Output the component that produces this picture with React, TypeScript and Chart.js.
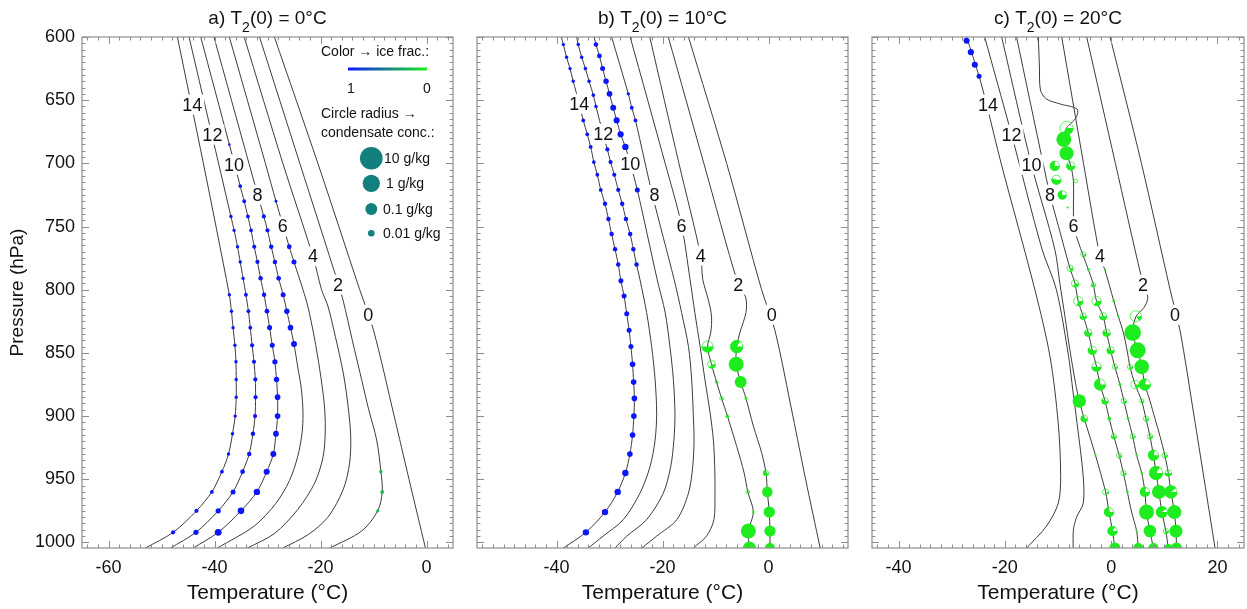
import React, { useEffect, useRef } from "react";
import { Chart, registerables } from "chart.js";

Chart.register(...registerables);

const FONT = "'Liberation Sans', Arial, Helvetica, sans-serif";

// ---------------- axes ----------------
const Y_TICKS = [600, 650, 700, 750, 800, 850, 900, 950, 1000];
const Y_MIN = 600;
const Y_MAX = 1004.4;
const X_TICKS_A = [-60, -40, -20, 0];
const X_TICKS_B = [-40, -20, 0];
const X_TICKS_C = [-40, -20, 0, 20];
const CURVE_LABELS = ["0", "2", "4", "6", "8", "10", "12", "14"];

// ---------------- panel a : T2(0) = 0 C ----------------
const A0_P = [600, 700, 800, 832, 900, 950, 1004.4];
const A0_T = [-28.7, -20.5, -12.6, -10.0, -6.1, -3.3, -0.2];
const A2_P = [600, 700, 796, 809, 840, 871, 895, 919, 944, 960, 975, 991, 1004.4];
const A2_T = [-31.5, -23.9, -16.6, -15.7, -14.0, -12.25, -10.9, -9.4, -8.6, -8.35, -9.2, -12.25, -18.2];
const A4_P = [600, 700, 774, 800, 813, 837, 866, 892, 916, 937, 958, 980, 994, 1004.4];
const A4_T = [-34.4, -27.1, -21.4, -19.8, -18.6, -17.2, -15.7, -14.8, -14.3, -14.5, -15.7, -18.6, -22.4, -27.1];
const A6_P = [600, 700, 730, 766, 778, 800, 813, 837, 863, 890, 911, 932, 953, 974, 993, 1004.4];
const A6_T = [-37.2, -30.4, -28.4, -25.9, -25.0, -23.3, -22.4, -21.2, -20.15, -19.3, -19.1, -19.5, -21.1, -24.3, -28.7, -33.75];
const A8_P = [600, 700, 742, 753, 766, 778, 791, 804, 817, 830, 843, 861, 879, 898, 914, 932, 951, 969, 987, 1004.4];
const A8_T = [-40.1, -33.5, -30.7, -30.0, -29.3, -28.6, -27.9, -27.05, -26.35, -25.66, -25.0, -24.3, -23.6, -23.3, -23.5, -24.3, -25.85, -28.4, -32.5, -39.45];
const A10_P = [600, 685, 718, 730, 742, 753, 766, 778, 791, 804, 817, 830, 844, 857, 871, 885, 900, 914, 930, 944, 960, 975, 992, 1004.4];
const A10_T = [-42.6, -37.2, -35.15, -34.4, -33.7, -33.1, -32.5, -31.9, -31.3, -30.65, -30.1, -29.6, -29.1, -28.6, -28.3, -28.1, -28.1, -28.4, -28.9, -30.15, -32.0, -35.0, -39.3, -44.0];
const A12_P = [600, 742, 753, 766, 778, 791, 804, 817, 830, 844, 857, 871, 885, 900, 914, 930, 944, 960, 975, 992, 1004.4];
const A12_T = [-44.8, -36.9, -36.3, -35.65, -35.15, -34.6, -34.07, -33.6, -33.25, -32.9, -32.55, -32.3, -32.25, -32.35, -32.75, -33.45, -34.7, -36.5, -39.3, -43.5, -48.3];
const A14_P = [600, 700, 804, 817, 830, 844, 857, 871, 885, 900, 914, 930, 944, 960, 975, 992, 1004.4];
const A14_T = [-47.0, -42.1, -37.2, -36.8, -36.5, -36.15, -35.95, -35.9, -35.9, -36.1, -36.6, -37.35, -38.6, -40.5, -43.4, -47.8, -53.0];
const A_LABEL_T = [-11.0, -16.7, -21.4, -27.1, -31.9, -36.3, -40.4, -44.2];
const A_LABEL_P = [819.8, 796, 773.6, 749.9, 724.8, 701, 677.2, 653.5];
// markers: [T, P, condensate g/kg, ice fraction, filled fraction]
const A_MARKERS = [
  [-37.2, 804, 0.0025, 1, 1], [-36.8, 817, 0.0025, 1, 1], [-36.5, 830, 0.0025, 1, 1], [-36.15, 844, 0.0025, 1, 1],
  [-35.95, 857, 0.0025, 1, 1], [-35.9, 871, 0.0025, 1, 1], [-35.9, 885, 0.0025, 1, 1], [-36.1, 900, 0.0025, 1, 1],
  [-36.6, 914, 0.0025, 1, 1], [-37.35, 930, 0.0025, 1, 1], [-38.6, 944, 0.003, 1, 1], [-40.5, 960, 0.003, 1, 1],
  [-43.4, 975, 0.0035, 1, 1], [-47.8, 992, 0.0035, 1, 1],
  [-36.9, 742, 0.0025, 1, 1], [-36.3, 753, 0.0025, 1, 1], [-35.65, 766, 0.0025, 1, 1], [-35.15, 778, 0.0025, 1, 1],
  [-34.6, 791, 0.0025, 1, 1], [-34.07, 804, 0.003, 1, 1], [-33.6, 817, 0.003, 1, 1], [-33.25, 830, 0.003, 1, 1],
  [-32.9, 844, 0.0035, 1, 1], [-32.55, 857, 0.0035, 1, 1], [-32.3, 871, 0.0035, 1, 1], [-32.25, 885, 0.0035, 1, 1],
  [-32.35, 900, 0.0035, 1, 1], [-32.75, 914, 0.004, 1, 1], [-33.45, 930, 0.004, 1, 1], [-34.7, 944, 0.0045, 1, 1],
  [-36.5, 960, 0.005, 1, 1], [-39.3, 975, 0.0055, 1, 1], [-43.5, 992, 0.0055, 1, 1],
  [-37.2, 685, 0.0017, 1, 1], [-35.15, 718, 0.003, 1, 1], [-34.4, 730, 0.003, 1, 1], [-33.7, 742, 0.003, 1, 1],
  [-33.1, 753, 0.003, 1, 1], [-32.5, 766, 0.0035, 1, 1], [-31.9, 778, 0.0035, 1, 1], [-31.3, 791, 0.004, 1, 1],
  [-30.65, 804, 0.004, 1, 1], [-30.1, 817, 0.0045, 1, 1], [-29.6, 830, 0.005, 1, 1], [-29.1, 844, 0.005, 1, 1],
  [-28.6, 857, 0.0055, 1, 1], [-28.3, 871, 0.006, 1, 1], [-28.1, 885, 0.0065, 1, 1], [-28.1, 900, 0.0065, 1, 1],
  [-28.4, 914, 0.007, 1, 1], [-28.9, 930, 0.0075, 1, 1], [-30.15, 944, 0.008, 1, 1], [-32.0, 960, 0.009, 1, 1],
  [-35.0, 975, 0.01, 1, 1], [-39.3, 992, 0.011, 1, 1],
  [-30.7, 742, 0.0035, 1, 1], [-30.0, 753, 0.0035, 1, 1], [-29.3, 766, 0.004, 1, 1], [-28.6, 778, 0.004, 1, 1],
  [-27.9, 791, 0.0045, 1, 1], [-27.05, 804, 0.005, 1, 1], [-26.35, 817, 0.006, 1, 1], [-25.66, 830, 0.0065, 1, 1],
  [-25.0, 843, 0.0075, 1, 1],
  [-28.4, 730, 0.002, 1, 1], [-25.9, 766, 0.0045, 1, 1], [-25.0, 778, 0.005, 1, 1],
  [-8.6, 944, 0.0025, 0.25, 1], [-8.35, 960, 0.003, 0.25, 1], [-9.2, 975, 0.0025, 0.25, 1],
];

// ---------------- panel b : T2(0) = 10 C ----------------
const B0_P = [600, 700, 800, 832, 900, 950, 1004.4];
const B0_T = [-15.1, -7.9, -1.3, 1.2, 4.6, 7.0, 9.75];
const B2_P = [600, 700, 796, 806, 818, 834, 845, 859, 873, 886, 908, 929, 945, 960, 976, 991, 1004.4];
const B2_T = [-18.9, -12.2, -5.7, -4.3, -4.25, -5.4, -6.0, -6.1, -5.25, -4.25, -2.85, -1.3, -0.47, -0.22, 0.15, 0.28, 0.28];
const B4_P = [600, 700, 773, 792, 808, 821, 834, 845, 859, 873, 886, 900, 924, 945, 960, 976, 991, 1004.4];
const B4_T = [-22.4, -16.9, -12.8, -12.4, -11.35, -10.75, -10.9, -11.5, -10.75, -9.8, -8.85, -7.75, -6.0, -4.6, -3.9, -2.85, -3.8, -3.6];
const B6_P = [600, 700, 749, 792, 818, 845, 871, 898, 919, 940, 961, 982, 995, 1004.4];
const B6_T = [-26.1, -19.5, -16.4, -14.8, -13.9, -12.9, -12.0, -11.0, -10.4, -10.15, -10.1, -10.3, -11.7, -14.2];
const B8_P = [600, 645, 656, 666, 725, 792, 818, 845, 871, 898, 919, 940, 961, 982, 995, 1004.4];
const B8_T = [-29.6, -26.45, -25.8, -25.1, -21.9, -17.8, -16.4, -15.1, -14.5, -14.2, -14.05, -14.3, -15.1, -17.3, -21.1, -23.9];
const B10_P = [600, 606, 615, 625, 635, 645, 656, 666, 677, 687, 700, 721, 792, 818, 845, 871, 898, 919, 940, 961, 982, 995, 1004.4];
const B10_T = [-32.9, -32.55, -31.9, -31.3, -30.65, -30.0, -29.3, -28.65, -27.9, -27.0, -26.1, -24.75, -21.0, -19.5, -18.6, -17.95, -17.65, -17.85, -18.45, -19.85, -23.0, -26.75, -28.95];
const B12_P = [600, 606, 616, 625, 635, 646, 655, 677, 689, 699, 709, 721, 732, 744, 756, 768, 780, 792, 818, 845, 871, 898, 919, 940, 961, 982, 995, 1004.4];
const B12_T = [-36.2, -35.9, -35.25, -34.55, -33.85, -33.05, -32.55, -31.2, -30.4, -29.8, -29.1, -28.35, -27.6, -26.9, -26.1, -25.5, -24.9, -24.25, -23.0, -22.05, -21.4, -21.1, -21.4, -22.35, -24.25, -27.4, -31.2, -34.0];
const B14_P = [600, 606, 616, 625, 635, 653, 666, 677, 687, 699, 709, 721, 732, 744, 756, 768, 780, 793, 805, 819, 832, 845, 859, 873, 886, 900, 915, 930, 945, 960, 976, 992, 1004.4];
const B14_T = [-39.1, -38.7, -38.1, -37.45, -36.85, -35.7, -34.95, -34.2, -33.55, -32.95, -32.3, -31.65, -30.85, -30.2, -29.6, -28.95, -28.35, -27.85, -27.25, -26.75, -26.3, -25.95, -25.65, -25.45, -25.3, -25.4, -25.65, -26.15, -27.0, -28.45, -30.85, -34.45, -38.7];
const B_LABEL_T = [0.6, -5.7, -12.8, -16.4, -21.5, -26.1, -31.2, -35.7];
const B_LABEL_P = [819.8, 796, 773, 749.3, 725, 700.4, 676.7, 652.9];
const B_MARKERS = [
  [-38.7, 606, 0.0025, 1, 1], [-38.1, 616, 0.0025, 1, 1], [-37.45, 625, 0.0025, 1, 1], [-36.85, 635, 0.0025, 1, 1],
  [-34.95, 666, 0.003, 1, 1], [-34.2, 677, 0.003, 1, 1], [-33.55, 687, 0.003, 1, 1], [-32.95, 699, 0.003, 1, 1],
  [-32.3, 709, 0.003, 1, 1], [-31.65, 721, 0.003, 1, 1], [-30.85, 732, 0.004, 1, 1], [-30.2, 744, 0.004, 1, 1],
  [-29.6, 756, 0.004, 1, 1], [-28.95, 768, 0.004, 1, 1], [-28.35, 780, 0.004, 1, 1], [-27.85, 793, 0.005, 1, 1],
  [-27.25, 805, 0.005, 1, 1], [-26.75, 819, 0.005, 1, 1], [-26.3, 832, 0.005, 1, 1], [-25.95, 845, 0.005, 1, 1],
  [-25.65, 859, 0.0065, 1, 1], [-25.45, 873, 0.0065, 1, 1], [-25.3, 886, 0.0065, 1, 1], [-25.4, 900, 0.0065, 1, 1],
  [-25.65, 915, 0.0065, 1, 1], [-26.15, 930, 0.0065, 1, 1], [-27.0, 945, 0.009, 1, 1], [-28.45, 960, 0.009, 1, 1],
  [-30.85, 976, 0.009, 1, 1], [-34.45, 992, 0.009, 1, 1],
  [-35.9, 606, 0.0027, 1, 1], [-35.25, 616, 0.0027, 1, 1], [-34.55, 625, 0.0027, 1, 1], [-33.85, 635, 0.0027, 1, 1],
  [-33.05, 646, 0.0027, 1, 1], [-32.55, 655, 0.0027, 1, 1], [-30.4, 689, 0.0035, 1, 1], [-29.8, 699, 0.0035, 1, 1],
  [-29.1, 709, 0.0035, 1, 1], [-28.35, 721, 0.0035, 1, 1], [-27.6, 732, 0.004, 1, 1], [-26.9, 744, 0.004, 1, 1],
  [-26.1, 756, 0.004, 1, 1], [-25.5, 768, 0.004, 1, 1], [-24.9, 780, 0.004, 1, 1],
  [-32.55, 606, 0.004, 1, 1], [-31.9, 615, 0.0045, 1, 1], [-31.3, 625, 0.005, 1, 1], [-30.65, 635, 0.006, 1, 1],
  [-30.0, 645, 0.007, 1, 1], [-29.3, 656, 0.0075, 1, 1], [-28.65, 666, 0.008, 1, 1], [-27.9, 677, 0.0085, 1, 1],
  [-27.0, 687, 0.009, 1, 1], [-24.75, 721, 0.005, 1, 1],
  [-26.45, 645, 0.0025, 1, 1], [-25.8, 656, 0.003, 1, 1], [-25.1, 666, 0.003, 1, 1],
  [-11.5, 845, 0.1, 0, 0.5], [-10.75, 859, 0.024, 0, 0.35], [-9.8, 873, 0.003, 0, 0.2], [-8.85, 886, 0.004, 0, 0.2],
  [-7.75, 900, 0.003, 0, 0.5], [-3.9, 960, 0.004, 0, 0.1], [-2.85, 976, 0.0017, 0, 1], [-3.8, 991, 0.37, 0, 1],
  [-3.6, 1004.4, 0.16, 0, 1],
  [-6.0, 845, 0.16, 0, 0.85], [-6.1, 859, 0.37, 0, 1], [-5.25, 873, 0.1, 0, 1], [-4.25, 886, 0.0025, 0, 0.2],
  [-0.47, 945, 0.0077, 0, 0.7], [-0.22, 960, 0.055, 0, 1], [0.15, 976, 0.075, 0, 1], [0.28, 991, 0.075, 0, 1],
  [0.28, 1004.4, 0.043, 0, 1],
];

// ---------------- panel c : T2(0) = 20 C ----------------
const C0_P = [600, 700, 800, 832, 900, 950, 1004.4];
const C0_T = [-0.2, 5.7, 11.1, 12.95, 15.6, 17.5, 19.55];
const C2_P = [600, 700, 790, 806, 814, 821, 834, 848, 861, 875, 888, 902, 916, 931, 945, 960, 976, 991, 1004.4];
const C2_T = [-4.6, 0.8, 5.7, 6.9, 6.2, 4.7, 4.05, 5.0, 5.75, 6.35, 7.3, 8.25, 9.2, 10.1, 10.75, 11.25, 11.9, 12.2, 12.3];
const C4_P = [600, 700, 774, 784, 809, 821, 834, 848, 861, 875, 888, 902, 916, 931, 945, 960, 976, 991, 1004.4];
const C4_T = [-9.3, -5.2, -2.1, -1.2, 0.5, 1.35, 2.3, 3.0, 3.55, 4.5, 5.75, 6.55, 7.3, 7.95, 8.45, 9.0, 9.55, 10.3, 10.75];
const C6_P = [600, 623, 642, 649, 653, 657, 663, 668, 672, 681, 692, 702, 714, 739, 750, 762, 784, 795, 809, 821, 834, 848, 861, 875, 888, 902, 916, 931, 945, 960, 976, 991, 1004.4];
const C6_T = [-13.7, -13.5, -13.3, -12.2, -9.6, -6.4, -6.5, -7.45, -8.4, -8.9, -8.4, -7.6, -7.1, -7.1, -7.0, -6.2, -4.3, -3.4, -2.75, -1.5, -0.85, -0.1, 0.7, 1.65, 2.4, 3.2, 4.05, 4.8, 5.75, 6.35, 6.65, 7.3, 7.95];
const C8_P = [600, 700, 725, 750, 783, 795, 809, 821, 834, 848, 861, 875, 888, 902, 916, 931, 945, 960, 976, 991, 1004.4];
const C8_T = [-17.8, -12.8, -11.5, -9.9, -7.75, -6.8, -6.2, -5.25, -4.3, -3.55, -2.75, -2.1, -1.15, -0.35, 0.5, 1.5, 2.3, 3.05, 3.85, 4.8, 5.1];
const C10_P = [600, 701, 768, 795, 821, 848, 874, 888, 902, 931, 960, 976, 991, 1004.4];
const C10_T = [-20.6, -15.0, -10.6, -9.65, -8.7, -7.75, -6.7, -6.0, -5.05, -2.95, -1.05, -0.4, 0.25, 0.7];
const C12_P = [600, 677, 768, 800, 853, 880, 906, 948, 969, 980, 990, 1004.4];
const C12_T = [-23.8, -18.75, -13.0, -10.3, -8.0, -7.2, -6.4, -5.25, -5.25, -6.5, -7.1, -7.15];
const C14_P = [600, 631, 654, 700, 800, 853, 906, 948, 969, 987, 1004.4];
const C14_T = [-27.2, -24.85, -23.4, -20.7, -14.35, -11.5, -9.95, -9.5, -9.95, -12.15, -15.9];
const C_LABEL_T = [12.0, 6.0, -2.1, -7.1, -11.5, -15.0, -18.75, -23.15];
const C_LABEL_P = [819.8, 796, 773.6, 749.8, 724.8, 701, 677.2, 653.5];
const C_MARKERS = [
  [-27.2, 603, 0.008, 1, 1], [-26.4, 612, 0.008, 1, 1], [-25.65, 622, 0.008, 1, 1], [-24.85, 631, 0.005, 1, 1],
  [-8.4, 672, 0.24, 0, 0.35], [-8.9, 681, 0.37, 0, 1], [-8.4, 692, 0.24, 0, 1], [-10.6, 702, 0.043, 0, 0.75],
  [-7.6, 702, 0.028, 0, 0.6], [-10.3, 713, 0.043, 0, 0.55], [-6.65, 714, 0.004, 0, 0], [-9.2, 725, 0.028, 0, 0.75],
  [-8.2, 735, 0.0014, 0, 1], [-5.25, 772, 0.0077, 0, 0.15],
  [-7.75, 783, 0.012, 0, 0.25], [-4.3, 784, 0.002, 0, 1], [-1.15, 784, 0.0015, 0, 1],
  [-6.8, 795, 0.018, 0, 0.35], [-3.35, 796, 0.005, 0, 0.5],
  [-6.2, 809, 0.043, 0, 0.3], [-2.75, 809, 0.043, 0, 0.35], [0.5, 809, 0.002, 0, 1],
  [-5.25, 821, 0.012, 0, 0.5], [-1.5, 821, 0.018, 0, 0.5], [1.35, 821, 0.0015, 0, 1], [4.65, 821, 0.1, 0, 0.15],
  [-4.3, 834, 0.018, 0, 0.6], [-0.85, 834, 0.018, 0, 0.6], [4.05, 834, 0.75, 0, 1],
  [-3.55, 848, 0.028, 0, 0.6], [-0.1, 848, 0.018, 0, 0.6], [5.0, 848, 0.57, 0, 1],
  [-2.75, 861, 0.043, 0, 0.5], [0.7, 861, 0.0077, 0, 0.2], [3.55, 861, 0.0077, 0, 0.3], [5.75, 861, 0.32, 0, 1],
  [-2.1, 875, 0.1, 0, 0.75], [1.65, 875, 0.002, 0, 1], [4.5, 875, 0.028, 0, 0.2], [6.35, 875, 0.1, 0, 0.8],
  [-6.0, 888, 0.19, 0, 1], [-1.15, 888, 0.012, 0, 0.6], [2.4, 888, 0.0077, 0, 0.3], [5.75, 888, 0.005, 0, 0.3],
  [-5.05, 902, 0.014, 0, 0.7], [-0.35, 902, 0.003, 0, 1], [3.2, 902, 0.002, 0, 1], [6.55, 902, 0.0077, 0, 0.3],
  [0.5, 916, 0.0077, 0, 0.5], [4.05, 916, 0.0077, 0, 0.2], [7.3, 916, 0.0077, 0, 0.3],
  [-2.95, 931, 0.0015, 0, 1], [1.5, 931, 0.0077, 0, 0.3], [4.8, 931, 0.0015, 0, 1], [7.95, 931, 0.066, 0, 0.8],
  [10.1, 931, 0.0077, 0, 0.3],
  [2.3, 945, 0.0077, 0, 0.3], [5.75, 945, 0.0017, 0, 1], [8.45, 945, 0.24, 0, 0.85], [10.75, 945, 0.012, 0, 0.5],
  [-1.05, 960, 0.012, 0, 0.1], [3.05, 960, 0.0017, 0, 1], [6.35, 960, 0.043, 0, 0.8], [9.0, 960, 0.24, 0, 1],
  [11.25, 960, 0.16, 0, 0.9],
  [-0.4, 976, 0.043, 0, 0.75], [6.65, 976, 0.37, 0, 1], [9.55, 976, 0.1, 0, 0.9], [11.9, 976, 0.24, 0, 1],
  [0.25, 991, 0.043, 0, 0.85], [4.8, 991, 0.0015, 0, 1], [7.3, 991, 0.13, 0, 1], [10.3, 991, 0.0077, 0, 0.3],
  [12.2, 991, 0.16, 0, 1],
  [0.7, 1004.4, 0.066, 0, 1], [5.1, 1004.4, 0.043, 0, 1], [7.95, 1004.4, 0.043, 0, 1], [10.75, 1004.4, 0.018, 0, 1],
  [12.3, 1004.4, 0.066, 0, 1],
];

// legend
const LEGEND_Q = [10, 1, 0.1, 0.01];
const LEGEND_TEXT = ["10 g/kg", "1 g/kg", "0.1 g/kg", "0.01 g/kg"];

// ---------------- helpers ----------------
const BLUE = [12, 22, 250];
const GREEN = [30, 236, 30];
function iceColor(ice: number, alpha = 1) {
  const c = BLUE.map((b, i) => Math.round(b * ice + GREEN[i] * (1 - ice)));
  return `rgba(${c[0]},${c[1]},${c[2]},${alpha})`;
}
function radiusOf(q: number) {
  return Math.max(1, 2.67 * (Math.log10(q) + 3.24));
}
function drawMarker(ctx: CanvasRenderingContext2D, x: number, y: number, r: number, ice: number, fill: number) {
  if (fill >= 0.98) {
    ctx.beginPath();
    ctx.arc(x, y, r, 0, Math.PI * 2);
    ctx.fillStyle = iceColor(ice);
    ctx.fill();
    return;
  }
  ctx.beginPath();
  ctx.arc(x, y, Math.max(0.8, r - 0.4), 0, Math.PI * 2);
  ctx.strokeStyle = iceColor(ice, 0.8);
  ctx.lineWidth = 0.9;
  ctx.stroke();
  if (fill > 0) {
    ctx.beginPath();
    ctx.moveTo(x, y);
    ctx.arc(x, y, r, 0, Math.PI * 2 * fill);
    ctx.closePath();
    ctx.fillStyle = iceColor(ice);
    ctx.fill();
  }
}

const PANELS = [
  {
    letter: "a", t0: "0", xMin: -65, xMax: 5, xTicks: X_TICKS_A,
    curves: [[A0_P, A0_T], [A2_P, A2_T], [A4_P, A4_T], [A6_P, A6_T], [A8_P, A8_T], [A10_P, A10_T], [A12_P, A12_T], [A14_P, A14_T]],
    labelT: A_LABEL_T, labelP: A_LABEL_P, markers: A_MARKERS,
    showY: true, legend: true, left: 0, width: 460, padLeft: 0, padRight: 7,
  },
  {
    letter: "b", t0: "10", xMin: -55, xMax: 15, xTicks: X_TICKS_B,
    curves: [[B0_P, B0_T], [B2_P, B2_T], [B4_P, B4_T], [B6_P, B6_T], [B8_P, B8_T], [B10_P, B10_T], [B12_P, B12_T], [B14_P, B14_T]],
    labelT: B_LABEL_T, labelP: B_LABEL_P, markers: B_MARKERS,
    showY: false, legend: false, left: 460, width: 395, padLeft: 17, padRight: 7,
  },
  {
    letter: "c", t0: "20", xMin: -45, xMax: 25, xTicks: X_TICKS_C,
    curves: [[C0_P, C0_T], [C2_P, C2_T], [C4_P, C4_T], [C6_P, C6_T], [C8_P, C8_T], [C10_P, C10_T], [C12_P, C12_T], [C14_P, C14_T]],
    labelT: C_LABEL_T, labelP: C_LABEL_P, markers: C_MARKERS,
    showY: false, legend: false, left: 855, width: 392, padLeft: 17, padRight: 3,
  },
];

function decoPlugin(cfg: any) {
  return {
    id: "deco" + cfg.letter,
    afterDatasetsDraw(chart: any) {
      const { ctx, chartArea: a, scales } = chart;
      const xs = scales.x, ys = scales.y;
      ctx.save();
      // curve labels (white gap + number)
      ctx.font = `18px ${FONT}`;
      ctx.textAlign = "center";
      ctx.textBaseline = "middle";
      CURVE_LABELS.forEach((txt, i) => {
        const px = xs.getPixelForValue(cfg.labelT[i]);
        const py = ys.getPixelForValue(cfg.labelP[i]);
        const w = ctx.measureText(txt).width;
        ctx.fillStyle = "#ffffff";
        ctx.fillRect(px - w / 2 - 2, py - 10, w + 4, 20);
        ctx.fillStyle = "#111111";
        ctx.fillText(txt, px, py + 1);
      });
      // condensate markers
      ctx.beginPath();
      ctx.rect(a.left, a.top, a.right - a.left, a.bottom - a.top);
      ctx.clip();
      const meta = chart.getDatasetMeta(chart.data.datasets.length - 1);
      meta.data.forEach((el: any, i: number) => {
        const m = cfg.markers[i];
        drawMarker(ctx, el.x, el.y, radiusOf(m[2]), m[3], m[4]);
      });
      ctx.restore();
    },
    afterDraw(chart: any) {
      const { ctx, chartArea: a, scales } = chart;
      const xs = scales.x, ys = scales.y;
      ctx.save();
      // frame
      ctx.strokeStyle = "#8e8e8e";
      ctx.lineWidth = 1.2;
      ctx.strokeRect(a.left, a.top, a.right - a.left, a.bottom - a.top);
      ctx.lineWidth = 1;
      ctx.beginPath();
      for (let v = Math.ceil(cfg.xMin / 2) * 2; v <= cfg.xMax; v += 2) {
        const px = Math.round(xs.getPixelForValue(v)) + 0.5;
        const L = v % 20 === 0 ? 7 : 3.5;
        ctx.moveTo(px, a.bottom); ctx.lineTo(px, a.bottom - L);
        ctx.moveTo(px, a.top); ctx.lineTo(px, a.top + L);
      }
      for (let v = Y_MIN; v <= Y_MAX; v += 5) {
        const py = Math.round(ys.getPixelForValue(v)) + 0.5;
        const L = v % 50 === 0 ? 7 : 3.5;
        ctx.moveTo(a.left, py); ctx.lineTo(a.left + L, py);
        ctx.moveTo(a.right, py); ctx.lineTo(a.right - L, py);
      }
      ctx.stroke();
      // title with subscript
      ctx.fillStyle = "#111111";
      ctx.textBaseline = "alphabetic";
      ctx.textAlign = "left";
      const s1 = `${cfg.letter}) T`;
      const s3 = `(0) = ${cfg.t0}°C`;
      ctx.font = `19px ${FONT}`;
      const w1 = ctx.measureText(s1).width;
      const w3 = ctx.measureText(s3).width;
      ctx.font = `14px ${FONT}`;
      const w2 = ctx.measureText("2").width;
      const x0 = (a.left + a.right) / 2 - (w1 + w2 + w3) / 2;
      ctx.font = `19px ${FONT}`;
      ctx.fillText(s1, x0, 23.5);
      ctx.font = `14px ${FONT}`;
      ctx.fillText("2", x0 + w1, 31.5);
      ctx.font = `19px ${FONT}`;
      ctx.fillText(s3, x0 + w1 + w2, 23.5);
      // legend (panel a)
      if (cfg.legend) {
        ctx.font = `14px ${FONT}`;
        ctx.textBaseline = "middle";
        ctx.fillText("Color \u2192 ice frac.:", 321, 52);
        const g = ctx.createLinearGradient(348, 0, 427, 0);
        g.addColorStop(0, iceColor(1));
        g.addColorStop(1, iceColor(0));
        ctx.fillStyle = g;
        ctx.fillRect(348, 67.5, 79, 3);
        ctx.fillStyle = "#111111";
        ctx.textAlign = "center";
        ctx.fillText("1", 351, 89);
        ctx.fillText("0", 427, 89);
        ctx.textAlign = "left";
        ctx.fillText("Circle radius \u2192", 321, 114);
        ctx.fillText("condensate conc.:", 321, 133);
        const ly = [158.3, 183.3, 209, 233.3];
        const lx = [384, 386, 383, 383];
        LEGEND_Q.forEach((q, i) => {
          ctx.beginPath();
          ctx.arc(371.3, ly[i], radiusOf(q), 0, Math.PI * 2);
          ctx.fillStyle = "#13807d";
          ctx.fill();
          ctx.fillStyle = "#111111";
          ctx.fillText(LEGEND_TEXT[i], lx[i], ly[i] + 1);
        });
      }
      ctx.restore();
    },
  };
}

function makeChart(canvas: HTMLCanvasElement, cfg: any) {
  const datasets: any[] = cfg.curves.map(([P, T]: number[][]) => ({
    data: P.map((p, i) => ({ x: T[i], y: p })),
    showLine: true,
    borderColor: "#3c3c3c",
    borderWidth: 1,
    pointRadius: 0,
    pointHoverRadius: 0,
    tension: 0.3,
    fill: false,
  }));
  datasets.push({
    data: cfg.markers.map((m: number[]) => ({ x: m[0], y: m[1] })),
    showLine: false,
    pointRadius: 0,
    pointHoverRadius: 0,
  });
  return new Chart(canvas, {
    type: "scatter",
    data: { datasets },
    options: {
      responsive: false,
      animation: false,
      devicePixelRatio: 1,
      events: [],
      layout: { padding: { top: 37, bottom: 0, left: cfg.padLeft, right: cfg.padRight } },
      plugins: { legend: { display: false }, tooltip: { enabled: false }, title: { display: false } },
      scales: {
        x: {
          type: "linear",
          position: "bottom",
          min: cfg.xMin,
          max: cfg.xMax,
          afterBuildTicks: (s: any) => { s.ticks = cfg.xTicks.map((v: number) => ({ value: v })); },
          afterFit: (s: any) => { s.height = 61; },
          grid: { display: false, drawTicks: false },
          border: { display: false },
          ticks: {
            font: { family: FONT, size: 18 }, color: "#111111", padding: 9, maxRotation: 0, autoSkip: false,
            callback: (v: any) => String(v),
          },
          title: {
            display: true, text: "Temperature (°C)", color: "#111111",
            font: { family: FONT, size: 21 }, padding: { top: 0, bottom: 3 },
          },
        },
        y: {
          type: "linear",
          reverse: true,
          min: Y_MIN,
          max: Y_MAX,
          display: cfg.showY,
          afterBuildTicks: (s: any) => { s.ticks = Y_TICKS.map((v) => ({ value: v })); },
          afterFit: (s: any) => { s.width = cfg.showY ? 82 : 0; },
          grid: { display: false, drawTicks: false },
          border: { display: false },
          ticks: {
            font: { family: FONT, size: 18 }, color: "#111111", padding: 7, autoSkip: false,
            callback: (v: any) => String(v),
          },
          title: {
            display: true, text: "Pressure (hPa)", color: "#111111",
            font: { family: FONT, size: 19 }, padding: { top: 6, bottom: 0 },
          },
        },
      },
    } as any,
    plugins: [decoPlugin(cfg)],
  });
}

function Panel({ cfg }: { cfg: any }) {
  const ref = useRef<HTMLCanvasElement>(null);
  useEffect(() => {
    const chart = makeChart(ref.current as HTMLCanvasElement, cfg);
    return () => chart.destroy();
  }, [cfg]);
  return (
    <canvas
      ref={ref}
      width={cfg.width}
      height={609}
      style={{ position: "absolute", left: cfg.left, top: 0, width: cfg.width, height: 609 }}
    />
  );
}

export default function App() {
  return (
    <div style={{ position: "fixed", left: 0, top: 0, width: 1247, height: 609, background: "#ffffff", overflow: "hidden" }}>
      {PANELS.map((p) => (
        <Panel key={p.letter} cfg={p} />
      ))}
    </div>
  );
}
